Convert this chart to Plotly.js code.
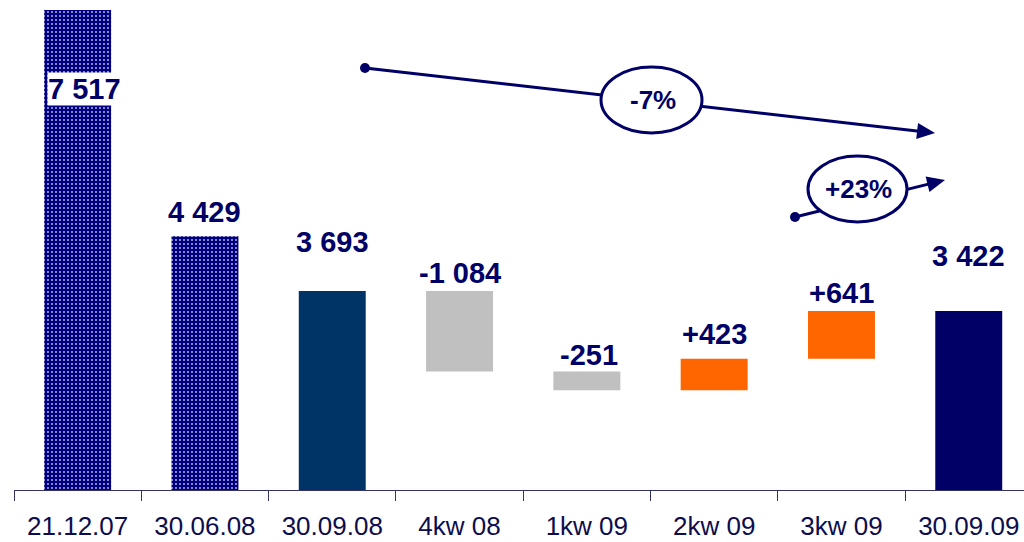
<!DOCTYPE html>
<html><head><meta charset="utf-8">
<script src="https://cdn.plot.ly/plotly-3.0.1.min.js"></script>
<style>html,body{margin:0;padding:0;background:#fff}#chart{width:1024px;height:542px}</style>
</head><body><div id="chart"></div>
<script>
// ---- data ----
const categories = ['21.12.07','30.06.08','30.09.08','4kw 08','1kw 09','2kw 09','3kw 09','30.09.09'];
const values = [7517, 4429, 3693, -1084, -251, 423, 641, 3422];
const measures = ['total','total','total','relative','relative','relative','relative','total'];
const valueLabels = ['7 517','4 429','3 693','-1 084','-251','+423','+641','3 422'];
const changeLabels = ['-7%','+23%'];

// ---- styles ----
const barColors = ['#000080','#000080','#003366','#C0C0C0','#C0C0C0','#FF6600','#FF6600','#000066'];
const patternShapes = ['.','.','','','','','',''];
const labelGap = [-79, 24, 49, 18, 16, 25, 18, 55];
const labelXShift = [7, 0, 0, 0, 2, 0, 0, 0];
const navy = '#000066';
const yRange = [1015, 7471];

// waterfall bases
let running = 0;
const bases = [], ys = [], tops = [];
values.forEach((v, i) => {
  if (measures[i] === 'total') { bases.push(0); ys.push(v); running = v; tops.push(v); }
  else { bases.push(running); ys.push(v); tops.push(Math.max(running, running + v)); running += v; }
});

const trace = {
  type: 'bar', x: categories, y: ys, base: bases,
  marker: {
    color: barColors, line: {width: 0},
    pattern: {shape: patternShapes, size: 4, solidity: 0.22, fgcolor: '#ffffff', fgopacity: 0.65, fillmode: 'overlay'}
  },
  hoverinfo: 'none', width: 0.526
};

const annotations = valueLabels.map((t, i) => ({
  x: categories[i], y: Math.min(tops[i], yRange[1]), xref: 'x', yref: 'y',
  text: t, showarrow: false, yanchor: 'middle', yshift: labelGap[i], xshift: labelXShift[i],
  font: {family: 'Liberation Sans, Arial, sans-serif', size: 29, color: navy, weight: 'bold'},
  bgcolor: i === 0 ? '#ffffff' : 'rgba(0,0,0,0)', borderpad: 0
}));

// pixel -> paper helpers (plot area: x 14..1024, y 10..490)
const PX = p => (p - 14) / 1010;
const PY = p => (490 - p) / 480;

function arrowShapes(x0, y0, x1, y1) {
  const dx = x1 - x0, dy = y1 - y0, L = Math.hypot(dx, dy);
  const ux = dx / L, uy = dy / L, nx = -uy, ny = ux;
  const hl = 18, hw = 8;
  const bx = x1 - ux * hl, by = y1 - uy * hl;
  return [
    {type: 'line', xref: 'paper', yref: 'paper', x0: PX(x0), y0: PY(y0), x1: PX(bx + ux * 2), y1: PY(by + uy * 2), line: {color: navy, width: 3}},
    {type: 'path', xref: 'paper', yref: 'paper',
     path: `M ${PX(x1)} ${PY(y1)} L ${PX(bx + nx * hw)} ${PY(by + ny * hw)} L ${PX(bx - nx * hw)} ${PY(by - ny * hw)} Z`,
     fillcolor: navy, line: {color: navy, width: 0}},
    {type: 'circle', xref: 'paper', yref: 'paper', x0: PX(x0 - 5), x1: PX(x0 + 5), y0: PY(y0 + 5), y1: PY(y0 - 5), fillcolor: navy, line: {color: navy, width: 0}}
  ];
}
const shapes = [
  ...arrowShapes(365, 68, 935, 133),
  ...arrowShapes(795, 217, 945, 180),
  {type: 'circle', xref: 'paper', yref: 'paper', x0: PX(601), x1: PX(702), y0: PY(133), y1: PY(67), fillcolor: '#ffffff', line: {color: navy, width: 3}},
  {type: 'circle', xref: 'paper', yref: 'paper', x0: PX(808), x1: PX(907), y0: PY(222), y1: PY(156), fillcolor: '#ffffff', line: {color: navy, width: 3}}
];
annotations.push(
  {xref: 'paper', yref: 'paper', x: PX(653), y: PY(100), text: changeLabels[0], showarrow: false, xanchor: 'center', yanchor: 'middle',
   font: {family: 'Liberation Sans, Arial, sans-serif', size: 26, color: navy, weight: 'bold'}},
  {xref: 'paper', yref: 'paper', x: PX(858), y: PY(189), text: changeLabels[1], showarrow: false, xanchor: 'center', yanchor: 'middle',
   font: {family: 'Liberation Sans, Arial, sans-serif', size: 26, color: navy, weight: 'bold'}}
);

const layout = {
  width: 1024, height: 542,
  margin: {l: 14, r: 0, t: 10, b: 52},
  paper_bgcolor: '#ffffff', plot_bgcolor: '#ffffff',
  showlegend: false,
  xaxis: {
    type: 'category', range: [-0.5, 7.434], showgrid: false, zeroline: false,
    showline: true, linecolor: '#333366', linewidth: 1,
    ticks: 'outside', tickson: 'boundaries', ticklen: 10, tickcolor: '#333366', tickwidth: 1,
    ticklabelstandoff: 13,
    tickfont: {family: 'Liberation Sans, Arial, sans-serif', size: 26, color: '#0d0d4d'}
  },
  yaxis: {range: yRange, visible: false, showgrid: false, zeroline: false},
  shapes: shapes, annotations: annotations
};
Plotly.newPlot('chart', [trace], layout, {displayModeBar: false, staticPlot: true});
</script></body></html>
